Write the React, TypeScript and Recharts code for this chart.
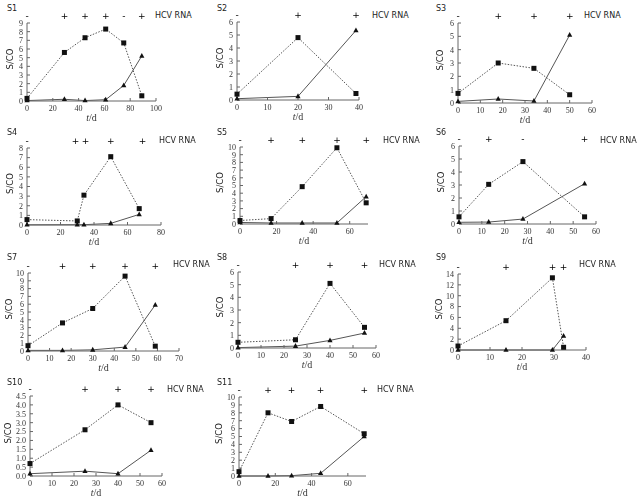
import React from 'react';
import { LineChart, Line, XAxis, YAxis } from 'recharts';

// S1
const s1Days = [0, 29, 45, 61, 75, 89];
const s1Square = [0.3, 5.6, 7.3, 8.3, 6.7, 0.6];
const s1Triangle = [0.05, 0.2, 0.05, 0.15, 1.8, 5.2];
const s1Rna = ['-', '+', '+', '+', '-', '+'];
const s1XTicks = [0, 20, 40, 60, 80, 100];
const s1YTicks = [0, 1, 2, 3, 4, 5, 6, 7, 8, 9];

// S2
const s2Days = [0, 20, 39];
const s2Square = [0.45, 4.8, 0.5];
const s2Triangle = [0.1, 0.28, 5.35];
const s2Rna = ['-', '+', '+'];
const s2XTicks = [0, 10, 20, 30, 40];
const s2YTicks = [0, 1, 2, 3, 4, 5, 6];

// S3
const s3Days = [0, 18, 34, 50];
const s3Square = [0.72, 3.0, 2.6, 0.62];
const s3Triangle = [0.12, 0.3, 0.15, 5.1];
const s3Rna = ['-', '+', '+', '+'];
const s3XTicks = [0, 10, 20, 30, 40, 50, 60];
const s3YTicks = [0, 1, 2, 3, 4, 5, 6];

// S4
const s4Days = [0, 30, 34, 50, 67];
const s4Square = [0.56, 0.42, 3.1, 7.1, 1.7];
const s4Triangle = [0.02, 0.03, 0.03, 0.17, 1.1];
const s4Rna = ['-', '+', '+', '+', '+'];
const s4RnaDays = [0, 29, 35, 50, 69];
const s4XTicks = [0, 20, 40, 60, 80];
const s4YTicks = [0, 1, 2, 3, 4, 5, 6, 7, 8];

// S5
const s5Days = [0, 17, 34, 53, 69];
const s5Square = [0.45, 0.7, 4.85, 9.9, 2.75];
const s5Triangle = [0.2, 0.13, 0.13, 0.13, 3.55];
const s5Rna = ['-', '+', '+', '+', '+'];
const s5XTicks = [0, 20, 40, 60];
const s5YTicks = [0, 1, 2, 3, 4, 5, 6, 7, 8, 9, 10];

// S6
const s6Days = [0, 13, 28, 55];
const s6Square = [0.55, 3.05, 4.8, 0.55];
const s6Triangle = [0.13, 0.15, 0.38, 3.1];
const s6Rna = ['-', '+', '-', '+'];
const s6XTicks = [0, 10, 20, 30, 40, 50, 60];
const s6YTicks = [0, 1, 2, 3, 4, 5, 6];

// S7
const s7Days = [0, 16, 30, 45, 59];
const s7Square = [0.68, 3.6, 5.45, 9.6, 0.62];
const s7Triangle = [0.08, 0.08, 0.15, 0.5, 5.9];
const s7Rna = ['-', '+', '+', '+', '+'];
const s7XTicks = [0, 10, 20, 30, 40, 50, 60, 70];
const s7YTicks = [0, 1, 2, 3, 4, 5, 6, 7, 8, 9, 10];

// S8
const s8Days = [0, 25, 40, 55];
const s8Square = [0.45, 0.65, 5.1, 1.63];
const s8Triangle = [0.03, 0.15, 0.6, 1.18];
const s8Rna = ['-', '+', '+', '+'];
const s8XTicks = [0, 10, 20, 30, 40, 50, 60];
const s8YTicks = [0, 1, 2, 3, 4, 5, 6];

// S9
const s9Days = [0, 15, 29.5, 33];
const s9Square = [0.73, 5.4, 13.3, 0.5];
const s9Triangle = [0, 0, 0, 2.6];
const s9Rna = ['-', '+', '+', '+'];
const s9XTicks = [0, 10, 20, 30, 40];
const s9YTicks = [0, 2, 4, 6, 8, 10, 12, 14];

// S10
const s10Days = [0, 25, 40, 55];
const s10Square = [0.7, 2.6, 4.0, 3.0];
const s10Triangle = [0.13, 0.27, 0.13, 1.45];
const s10Rna = ['-', '+', '+', '+'];
const s10XTicks = [0, 10, 20, 30, 40, 50, 60];
const s10YTicks = [0, 0.5, 1, 1.5, 2, 2.5, 3, 3.5, 4, 4.5];

// S11
const s11Days = [0, 16, 29, 45, 69];
const s11Square = [0.55, 8.0, 6.9, 8.8, 5.35];
const s11Triangle = [0, 0, 0.04, 0.34, 5.0];
const s11Rna = ['-', '+', '+', '+', '+'];
const s11XTicks = [0, 20, 40, 60];
const s11YTicks = [0, 1, 2, 3, 4, 5, 6, 7, 8, 9, 10];

type PanelData = {
  name: string; days: number[]; square: number[]; triangle: number[]; rna: string[];
  rnaDays?: number[]; xTicks: number[]; yTicks: number[]; xMax: number;
};

const panels: PanelData[] = [
  { name: 'S1', days: s1Days, square: s1Square, triangle: s1Triangle, rna: s1Rna, xTicks: s1XTicks, yTicks: s1YTicks, xMax: 100 },
  { name: 'S2', days: s2Days, square: s2Square, triangle: s2Triangle, rna: s2Rna, xTicks: s2XTicks, yTicks: s2YTicks, xMax: 40 },
  { name: 'S3', days: s3Days, square: s3Square, triangle: s3Triangle, rna: s3Rna, xTicks: s3XTicks, yTicks: s3YTicks, xMax: 60 },
  { name: 'S4', days: s4Days, square: s4Square, triangle: s4Triangle, rna: s4Rna, rnaDays: s4RnaDays, xTicks: s4XTicks, yTicks: s4YTicks, xMax: 80 },
  { name: 'S5', days: s5Days, square: s5Square, triangle: s5Triangle, rna: s5Rna, xTicks: s5XTicks, yTicks: s5YTicks, xMax: 70 },
  { name: 'S6', days: s6Days, square: s6Square, triangle: s6Triangle, rna: s6Rna, xTicks: s6XTicks, yTicks: s6YTicks, xMax: 60 },
  { name: 'S7', days: s7Days, square: s7Square, triangle: s7Triangle, rna: s7Rna, xTicks: s7XTicks, yTicks: s7YTicks, xMax: 70 },
  { name: 'S8', days: s8Days, square: s8Square, triangle: s8Triangle, rna: s8Rna, xTicks: s8XTicks, yTicks: s8YTicks, xMax: 60 },
  { name: 'S9', days: s9Days, square: s9Square, triangle: s9Triangle, rna: s9Rna, xTicks: s9XTicks, yTicks: s9YTicks, xMax: 40 },
  { name: 'S10', days: s10Days, square: s10Square, triangle: s10Triangle, rna: s10Rna, xTicks: s10XTicks, yTicks: s10YTicks, xMax: 60 },
  { name: 'S11', days: s11Days, square: s11Square, triangle: s11Triangle, rna: s11Rna, xTicks: s11XTicks, yTicks: s11YTicks, xMax: 70 },
];

// where each plot sits on the page (pixels); lx = distance of the S/CO label left of the y axis
const layout: Record<string, any> = {
  S1: { x0: 27, x1: 156, yTop: 23, yBot: 101, tx: 7, ty: 9, hx: 155, hy: 16, lx: 17 },
  S2: { x0: 237, x1: 359, yTop: 22, yBot: 100, tx: 217, ty: 9, hx: 372, hy: 16, lx: 17 },
  S3: { x0: 458, x1: 592, yTop: 23, yBot: 103, tx: 436, ty: 9, hx: 584, hy: 16, lx: 18 },
  S4: { x0: 27, x1: 161, yTop: 148, yBot: 225, tx: 7, ty: 133, hx: 159, hy: 141, lx: 17 },
  S5: { x0: 240, x1: 368, yTop: 147, yBot: 224, tx: 217, ty: 133, hx: 383, hy: 141, lx: 20 },
  S6: { x0: 459, x1: 596, yTop: 146, yBot: 224, tx: 436, ty: 133, hx: 600, hy: 141, lx: 18 },
  S7: { x0: 28, x1: 179, yTop: 273, yBot: 351, tx: 7, ty: 258, hx: 173, hy: 265, lx: 19 },
  S8: { x0: 238, x1: 376, yTop: 272, yBot: 348, tx: 217, ty: 258, hx: 379, hy: 265, lx: 18 },
  S9: { x0: 458, x1: 586, yTop: 274, yBot: 350, tx: 436, ty: 258, hx: 579, hy: 265, lx: 19 },
  S10: { x0: 30, x1: 162, yTop: 396, yBot: 476, tx: 7, ty: 383, hx: 167, hy: 390, lx: 22 },
  S11: { x0: 239, x1: 366, yTop: 397, yBot: 476, tx: 217, ty: 383, hx: 377, hy: 390, lx: 20 },
};

const YW = 30;
const TOPH = 22;
const BOTH = 30;
const RM = 8;
const AXIS = '#666';
const tickStyle = { fontFamily: 'Liberation Serif', fontSize: 8, fill: '#333' };

const SquareDot = (props: any) => {
  const { cx, cy, index } = props;
  if (cx == null || cy == null) return null;
  return <rect key={`sq-${index}`} x={cx - 2.5} y={cy - 2.5} width={5} height={5} fill="#111" />;
};

const TriDot = (props: any) => {
  const { cx, cy, index } = props;
  if (cx == null || cy == null) return null;
  return <path key={`tr-${index}`} d={`M${cx},${cy - 3}L${cx + 2.6},${cy + 1.8}L${cx - 2.6},${cy + 1.8}Z`} fill="#111" />;
};

const TdLabel = ({ viewBox }: any) => {
  const { x, y, width } = viewBox;
  return (
    <text x={x + width / 2} y={y + 20} textAnchor="middle" fontFamily="Liberation Serif" fontSize={10} fill="#333">
      <tspan fontStyle="italic">t</tspan>/d
    </text>
  );
};

const makeScoLabel = (lx: number) => ({ viewBox }: any) => {
  const { x, y, height, width } = viewBox;
  const cx = x + width - lx;
  const cy = y + height / 2 - 3;
  return (
    <text x={cx} y={cy} transform={`rotate(-90 ${cx} ${cy})`} textAnchor="middle" dominantBaseline="central"
      fontFamily="DejaVu Sans" fontSize={8.5} fill="#222">S/CO</text>
  );
};

const Panel = ({ p }: { p: PanelData }) => {
  const g = layout[p.name];
  const data = p.days.map((d, i) => ({ day: d, square: p.square[i], triangle: p.triangle[i] }));
  const yMax = p.yTicks[p.yTicks.length - 1];
  const width = YW + (g.x1 - g.x0) + RM;
  const height = TOPH + (g.yBot - g.yTop) + BOTH;
  const decimals = p.yTicks.some((t) => !Number.isInteger(t));
  const ScoLabel = makeScoLabel(g.lx);
  const rnaDays = p.rnaDays ?? p.days;
  return (
    <>
      <div style={{ position: 'absolute', left: g.tx, top: g.ty - 5, fontFamily: 'DejaVu Sans', fontSize: 8, lineHeight: '10px', color: '#222' }}>{p.name}</div>
      <div style={{ position: 'absolute', left: g.hx, top: g.hy - 5, fontFamily: 'DejaVu Sans', fontSize: 8, lineHeight: '10px', color: '#222', whiteSpace: 'nowrap' }}>HCV RNA</div>
      <div style={{ position: 'absolute', left: g.x0 - YW, top: g.yTop - TOPH, willChange: 'transform' }}>
        <LineChart width={width} height={height} data={data} margin={{ top: 0, right: RM, bottom: 0, left: 0 }}>
          <XAxis dataKey="day" type="number" domain={[0, p.xMax]} ticks={p.xTicks} interval={0}
            tickSize={-3} tickMargin={7} stroke={AXIS} tick={tickStyle} height={BOTH} label={<TdLabel />} />
          <XAxis xAxisId="top" orientation="top" dataKey="day" type="number" domain={[0, p.xMax]} ticks={rnaDays}
            interval={0} axisLine={false} tickLine={false} tickSize={0} tickMargin={4} height={TOPH}
            tickFormatter={(_v: any, i: number) => p.rna[i]}
            tick={{ fontFamily: 'DejaVu Sans', fontSize: 9, fill: '#000' }} />
          <YAxis type="number" domain={[0, yMax]} ticks={p.yTicks} interval={0} width={YW}
            tickSize={-3} tickMargin={7} stroke={AXIS} tick={tickStyle}
            tickFormatter={(v: number) => (decimals ? v.toFixed(1) : String(v))}
            label={<ScoLabel />} />
          <Line type="linear" dataKey="square" stroke="#555" strokeWidth={1} strokeDasharray="1.5 1.5"
            dot={SquareDot} activeDot={false} isAnimationActive={false} />
          <Line type="linear" dataKey="triangle" stroke="#555" strokeWidth={1}
            dot={TriDot} activeDot={false} isAnimationActive={false} />
        </LineChart>
      </div>
    </>
  );
};

export default function App() {
  return (
    <div style={{ position: 'absolute', left: 0, top: 0, width: 643, height: 501, background: '#fff', overflow: 'hidden' }}>
      {panels.map((p) => (
        <Panel key={p.name} p={p} />
      ))}
    </div>
  );
}
